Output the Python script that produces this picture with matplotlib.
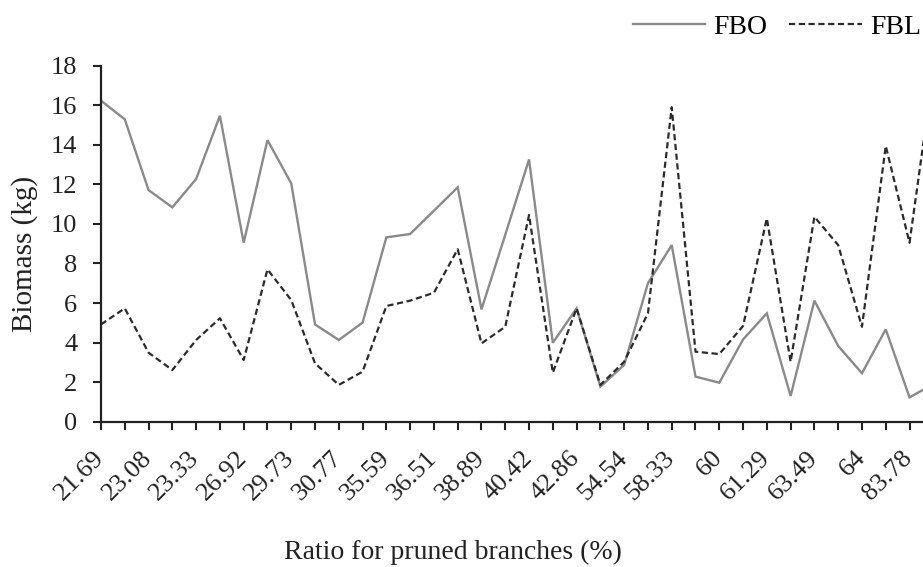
import matplotlib
matplotlib.use("Agg")
import matplotlib.pyplot as plt
import matplotlib.transforms as mtransforms

# Data (index 35 lies beyond the cropped right edge)
fbo = [16.23, 15.29, 11.71, 10.84, 12.27, 15.47, 9.05, 14.24, 12.05, 4.92,
       4.13, 5.01, 9.32, 9.49, 10.67, 11.85, 5.68, 9.45, 13.26, 3.99,
       5.73, 1.77, 2.87, 7.0, 8.93, 2.28, 1.97, 4.16, 5.48, 1.30,
       6.12, 3.83, 2.45, 4.67, 1.23, 1.9]
fbl = [4.92, 5.73, 3.49, 2.61, 4.13, 5.23, 3.12, 7.70, 6.15, 2.95,
       1.86, 2.53, 5.85, 6.12, 6.52, 8.72, 3.96, 4.8, 10.45, 2.48,
       5.73, 1.86, 3.03, 5.48, 15.9, 3.54, 3.42, 4.84, 10.28, 3.03,
       10.36, 8.93, 4.80, 13.94, 9.05, 17.7]
tick_labels = ["21.69", "23.08", "23.33", "26.92", "29.73", "30.77", "35.59",
               "36.51", "38.89", "40.42", "42.86", "54.54", "58.33", "60",
               "61.29", "63.49", "64", "83.78"]
y_ticks = [0, 2, 4, 6, 8, 10, 12, 14, 16, 18]

plt.rcParams['font.family'] = ['Liberation Serif', 'DejaVu Serif']
FS = 19

W, H = 923, 567
fig = plt.figure(figsize=(W / 100, H / 100), dpi=100)
left_px, right_px, top_px, bot_px = 101, 923, 65.7, 421.7
ax = fig.add_axes([left_px / W, 1 - bot_px / H, (right_px - left_px) / W, (bot_px - top_px) / H])

x = list(range(len(fbo)))
l1, = ax.plot(x, fbo, color='#8a8a8a', lw=1.7, solid_joinstyle='miter', label='FBO')
l2, = ax.plot(x, fbl, color='#2b2b2b', lw=1.6, ls=(0, (2.8, 1.6)), label='FBL')

ax.set_xlim(0, (right_px - left_px) / 23.78)
ax.set_ylim(0, 18)
ax.set_yticks(y_ticks)
ax.set_yticklabels([str(v) for v in y_ticks], fontsize=FS, color='#222222')

# ticks at every category, labels on every other one (drawn as texts)
ax.set_xticks(range(35))
ax.set_xticklabels([''] * 35)
lab_trans = mtransforms.offset_copy(ax.get_xaxis_transform(), fig=fig,
                                    x=-8, y=-25, units='dots')
for k, lab in enumerate(tick_labels):
    ax.text(2 * k, 0, lab, transform=lab_trans, fontsize=FS, rotation=45,
            ha='right', va='top', rotation_mode='anchor', color='#222222',
            clip_on=False)

for s in ['top', 'right']:
    ax.spines[s].set_visible(False)
for s in ['left', 'bottom']:
    ax.spines[s].set_linewidth(1.6)
    ax.spines[s].set_color('#222222')
ax.tick_params(axis='both', direction='out', length=6, width=1.5, color='#222222')
ax.tick_params(axis='y', pad=11)

fig.text(25 / W, 1 - 254 / H, 'Biomass (kg)', rotation=90, fontsize=21,
         ha='center', va='center', color='#222222')
fig.text(453 / W, 1 - 552 / H, 'Ratio for pruned branches (%)', fontsize=20,
         ha='center', va='center', color='#222222')

fig.legend(handles=[l1, l2], loc='center right', bbox_to_anchor=(921 / W, 1 - 27 / H),
           ncol=2, frameon=False, fontsize=20, handlelength=2.6, handletextpad=0.3,
           columnspacing=0.8, borderpad=0, borderaxespad=0)

fig.savefig('out.png', dpi=100)
